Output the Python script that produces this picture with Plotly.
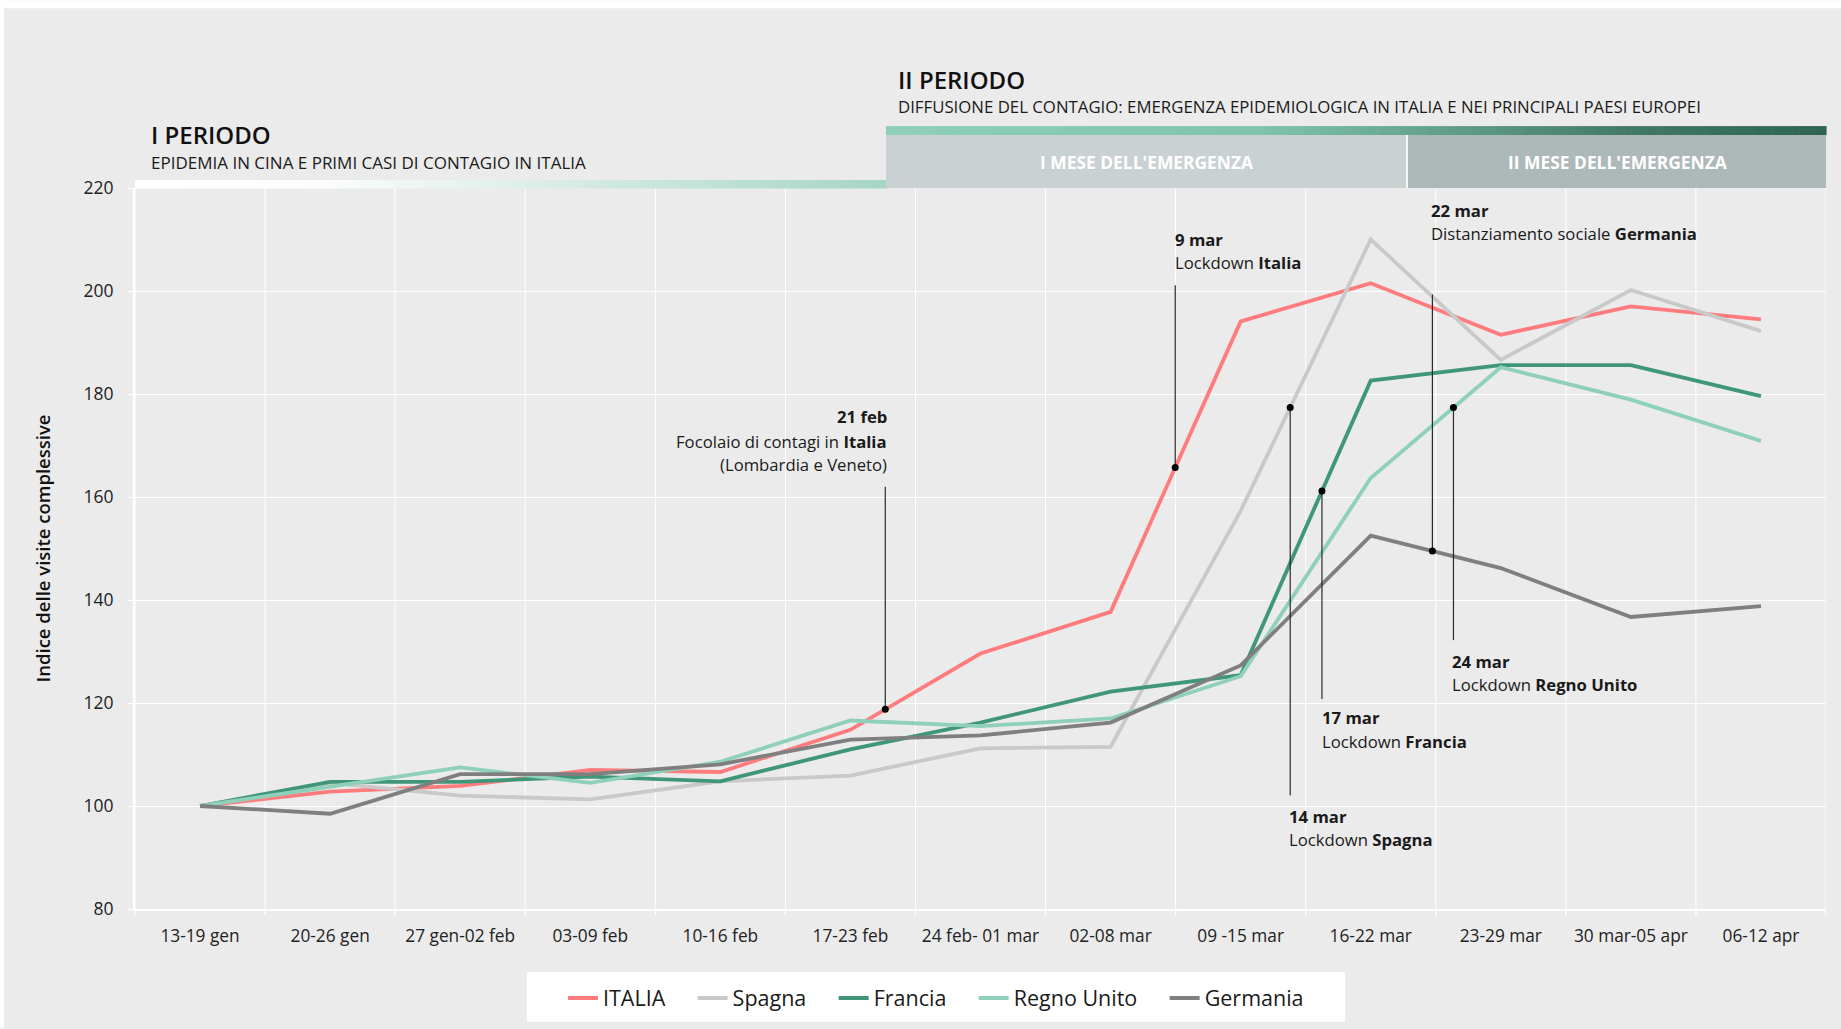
import numpy as np
import plotly.graph_objects as go

# ---- data -------------------------------------------------------------
settimane = ["13-19 gen", "20-26 gen", "27 gen-02 feb", "03-09 feb", "10-16 feb",
             "17-23 feb", "24 feb- 01 mar", "02-08 mar", "09 -15 mar", "16-22 mar",
             "23-29 mar", "30 mar-05 apr", "06-12 apr"]

italia = [100, 102.8, 103.9, 107.0, 106.6, 114.8, 129.6, 137.7, 194.1, 201.5, 191.5, 197.0, 194.5]
spagna = [100, 104.5, 102.0, 101.3, 104.8, 105.9, 111.2, 111.5, 157.3, 210.0, 186.6, 200.2, 192.2]
francia = [100, 104.7, 104.7, 105.7, 104.8, 111.0, 116.2, 122.2, 125.4, 182.6, 185.6, 185.6, 179.6]
regno_unito = [100, 103.7, 107.5, 104.5, 108.6, 116.6, 115.5, 117.0, 125.2, 163.7, 185.2, 178.9, 170.9]
germania = [100, 98.5, 106.2, 106.2, 108.1, 112.9, 113.7, 116.2, 127.3, 152.5, 146.2, 136.7, 138.8]

y_ticks = [80, 100, 120, 140, 160, 180, 200, 220]

serie = [
    ("ITALIA", italia, "#ff7c7e"),
    ("Spagna", spagna, "#c9c9c9"),
    ("Francia", francia, "#3f9679"),
    ("Regno Unito", regno_unito, "#8fd0b8"),
    ("Germania", germania, "#7f7f7f"),
]

# key events: position along the week axis, the series the dot sits on,
# end of the leader line, label lines and their heights
eventi = [
    dict(x=5.268, serie=italia, y_end=162.0, side="right", tx=5.294,
         righe=["<b>21 feb</b>", "Focolaio di contagi in <b>Italia</b>", "(Lombardia e Veneto)"],
         ty=[175.6, 170.8, 166.3]),
    dict(x=7.497, serie=italia, y_end=201.1, side="left", tx=7.478,
         righe=["<b>9 mar</b>", "Lockdown <b>Italia</b>"], ty=[210.0, 205.5]),
    dict(x=8.381, serie=spagna, y_end=102.1, side="left", tx=8.354,
         righe=["<b>14 mar</b>", "Lockdown <b>Spagna</b>"], ty=[98.0, 93.4]),
    dict(x=8.625, serie=francia, y_end=120.8, side="left", tx=8.607,
         righe=["<b>17 mar</b>", "Lockdown <b>Francia</b>"], ty=[117.1, 112.6]),
    dict(x=9.474, serie=germania, y_end=199.3, side="left", tx=9.447,
         righe=["<b>22 mar</b>", "Distanziamento sociale <b>Germania</b>"], ty=[215.7, 211.2]),
    dict(x=9.636, serie=regno_unito, y_end=132.2, side="left", tx=9.609,
         righe=["<b>24 mar</b>", "Lockdown <b>Regno Unito</b>"], ty=[128.0, 123.5]),
]

FONT = "Segoe UI, Open Sans, sans-serif"
BG = "#ebebeb"
W, H = 1841, 1029
L, R, T, B = 135, 15, 188, 119
PW, PH = W - L - R, H - T - B
NBSP = "\u00a0"


def px_x(p):
    """pixel column -> paper x"""
    return (p - L) / PW


def px_y(p):
    """pixel row -> paper y"""
    return (H - B - p) / PH


def hex_rgb(h):
    h = h.lstrip("#")
    return np.array([int(h[i:i + 2], 16) for i in (0, 2, 4)], dtype=float)


def gradient(stops, t):
    pos = [s[0] for s in stops]
    cols = [hex_rgb(s[1]) for s in stops]
    for i in range(len(pos) - 1):
        if pos[i] <= t <= pos[i + 1]:
            f = (t - pos[i]) / (pos[i + 1] - pos[i])
            c = cols[i] + (cols[i + 1] - cols[i]) * f
            return "rgb(%d,%d,%d)" % tuple(np.round(c))
    c = cols[-1]
    return "rgb(%d,%d,%d)" % tuple(np.round(c))


fig = go.Figure()

xs = list(range(len(settimane)))
for k, (nome, valori, colore) in enumerate(serie):
    etichetta = nome if k == len(serie) - 1 else nome + NBSP * 4
    fig.add_trace(go.Scatter(
        x=xs, y=valori, name=etichetta, mode="lines",
        line=dict(color=colore, width=3.8),
        hoverinfo="skip",
    ))

# leader lines and dots for the events
for ev in eventi:
    y_dot = float(np.interp(ev["x"], xs, ev["serie"]))
    fig.add_trace(go.Scatter(
        x=[ev["x"], ev["x"]], y=[y_dot, ev["y_end"]], mode="lines",
        line=dict(color="#2a2a2a", width=1.2), showlegend=False, hoverinfo="skip",
    ))
    fig.add_trace(go.Scatter(
        x=[ev["x"]], y=[y_dot], mode="markers",
        marker=dict(color="#000000", size=7), showlegend=False, hoverinfo="skip",
    ))
    for riga, ty in zip(ev["righe"], ev["ty"]):
        fig.add_annotation(
            x=ev["tx"], y=ty, xref="x", yref="y", text=riga, showarrow=False,
            xanchor=ev["side"], yanchor="middle", align=ev["side"],
            font=dict(family=FONT, size=16.7, color="#1a1a1a"),
        )

shapes = []
# white background strips on the top and left edges
shapes.append(dict(type="rect", xref="paper", yref="paper", x0=px_x(0), x1=px_x(W),
                   y0=px_y(8), y1=px_y(0), fillcolor="white", line_width=0, layer="below"))
shapes.append(dict(type="rect", xref="paper", yref="paper", x0=px_x(0), x1=px_x(4),
                   y0=px_y(H), y1=px_y(0), fillcolor="white", line_width=0, layer="below"))

# legend panel
shapes.append(dict(type="rect", xref="paper", yref="paper", x0=px_x(527), x1=px_x(1345),
                   y0=px_y(1023), y1=px_y(973), fillcolor="white", line_width=0, layer="below"))

# first period bar: white -> pale teal
n = 140
x0, x1 = 135, 887
for i in range(n):
    a = x0 + (x1 - x0) * i / n
    b = x0 + (x1 - x0) * (i + 1) / n + 0.6
    shapes.append(dict(type="rect", xref="paper", yref="paper", x0=px_x(a), x1=px_x(b),
                       y0=px_y(188.5), y1=px_y(180),
                       fillcolor=gradient([(0, "#ffffff"), (0.25, "#fbfdfc"), (1, "#a6d5c4")], (i + 0.5) / n),
                       line_width=0))

# second period bar: teal -> dark green
x0, x1 = 886, 1826
for i in range(n):
    a = x0 + (x1 - x0) * i / n
    b = x0 + (x1 - x0) * (i + 1) / n + 0.6
    shapes.append(dict(type="rect", xref="paper", yref="paper", x0=px_x(a), x1=px_x(b),
                       y0=px_y(135), y1=px_y(126),
                       fillcolor=gradient([(0, "#8fcfb8"), (0.4, "#80c3ab"), (0.6, "#609e88"),
                                           (0.8, "#417865"), (1, "#2e6452")], (i + 0.5) / n),
                       line_width=0))

# month boxes
shapes.append(dict(type="rect", xref="paper", yref="paper", x0=px_x(886), x1=px_x(1826),
                   y0=px_y(188), y1=px_y(135), fillcolor="#f4f6f6", line_width=0))
shapes.append(dict(type="rect", xref="paper", yref="paper", x0=px_x(886), x1=px_x(1406),
                   y0=px_y(188), y1=px_y(135), fillcolor="#c9d1d2", line_width=0))
shapes.append(dict(type="rect", xref="paper", yref="paper", x0=px_x(1408), x1=px_x(1826),
                   y0=px_y(188), y1=px_y(135), fillcolor="#adb9b8", line_width=0))

fig.update_layout(shapes=shapes)

testi = [
    ("I PERIODO", 149, 134, 24, 600, "#111111", "left"),
    ("EPIDEMIA IN CINA E PRIMI CASI DI CONTAGIO IN ITALIA", 149, 162, 17, 400, "#1a1a1a", "left"),
    ("II PERIODO", 896, 79, 24, 600, "#111111", "left"),
    ("DIFFUSIONE DEL CONTAGIO: EMERGENZA EPIDEMIOLOGICA IN ITALIA E NEI PRINCIPALI PAESI EUROPEI",
     896, 106, 16.8, 400, "#1a1a1a", "left"),
    ("I MESE DELL'EMERGENZA", 1146, 162, 17.4, 700, "#ffffff", "center"),
    ("II MESE DELL'EMERGENZA", 1617, 162, 17.4, 700, "#ffffff", "center"),
]
for testo, tx, ty, sz, wt, col, anc in testi:
    fig.add_annotation(
        x=px_x(tx), y=px_y(ty), xref="paper", yref="paper", text=testo, showarrow=False,
        xanchor=anc, yanchor="middle",
        font=dict(family=FONT, size=sz, color=col, weight=wt),
    )

fig.update_layout(
    width=W, height=H, autosize=False,
    margin=dict(l=L, r=R, t=T, b=B, pad=0),
    paper_bgcolor=BG, plot_bgcolor=BG,
    font=dict(family=FONT, color="#222222"),
    showlegend=True,
    legend=dict(
        orientation="h", x=px_x(936), xanchor="center", y=px_y(998), yanchor="middle",
        bgcolor="rgba(0,0,0,0)", borderwidth=0,
        font=dict(family=FONT, size=21.5, color="#1a1a1a"),
        itemwidth=30, tracegroupgap=0,
    ),
    xaxis=dict(
        type="linear", range=[-0.5, len(settimane) - 0.5],
        tickmode="array", tickvals=xs, ticktext=settimane,
        showgrid=False, zeroline=False,
        showline=True, linecolor="white", linewidth=2,
        ticks="", tickfont=dict(family=FONT, size=17.3, color="#222222"),
        ticklabelstandoff=10,
    ),
    yaxis=dict(
        range=[80, 220], tickmode="array", tickvals=y_ticks,
        showgrid=True, gridcolor="white", gridwidth=1, zeroline=False,
        showline=True, linecolor="white", linewidth=2,
        ticks="outside", ticklen=6, tickcolor="white", tickwidth=1,
        tickfont=dict(family=FONT, size=17.5, color="#222222"),
        ticklabelstandoff=10,
        title=dict(text="Indice delle visite complessive",
                   font=dict(family=FONT, size=18.5, color="#111111", weight=600),
                   standoff=28),
    ),
)

# vertical week boundaries with their ticks below the axis
for k in range(len(settimane) + 1):
    xb = k - 0.5
    fig.add_shape(type="line", xref="x", yref="y", x0=xb, x1=xb, y0=80, y1=220,
                  line=dict(color="white", width=1), layer="below")
    fig.add_shape(type="line", xref="x", yref="paper", x0=xb, x1=xb, y0=0, y1=px_y(916),
                  line=dict(color="white", width=1.5), layer="below")

fig.write_html("out.html")
